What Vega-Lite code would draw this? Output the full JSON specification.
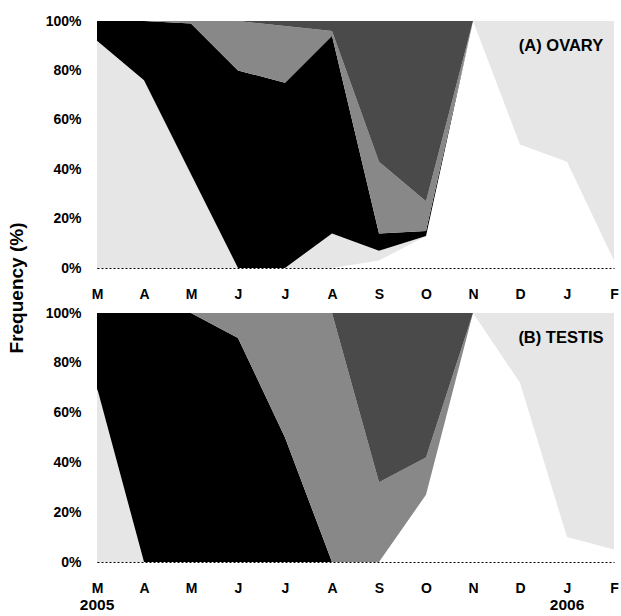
{
  "$schema": "https://vega.github.io/schema/vega-lite/v6.json",
  "padding": {"left": 7, "top": 14, "right": 0, "bottom": 0},
  "bounds": "flush",
  "spacing": 45,
  "config": {
    "view": {"stroke": null},
    "font": "Liberation Sans",
    "axis": {
      "labelFont": "Liberation Sans",
      "labelFontWeight": "bold",
      "labelFontSize": 14,
      "labelColor": "#000000",
      "grid": false,
      "ticks": false,
      "domainColor": "#000000",
      "domainDash": [2, 2],
      "domainWidth": 1
    }
  },
  "data": {
    "values": [
      {"panel": "A", "month": "Mar", "stage": "1 spent", "value": 0},
      {"panel": "A", "month": "Mar", "stage": "2 resting", "value": 92},
      {"panel": "A", "month": "Mar", "stage": "3 developing", "value": 8},
      {"panel": "A", "month": "Mar", "stage": "4 maturing", "value": 0},
      {"panel": "A", "month": "Mar", "stage": "5 mature", "value": 0},
      {"panel": "A", "month": "Apr", "stage": "1 spent", "value": 0},
      {"panel": "A", "month": "Apr", "stage": "2 resting", "value": 76},
      {"panel": "A", "month": "Apr", "stage": "3 developing", "value": 24},
      {"panel": "A", "month": "Apr", "stage": "4 maturing", "value": 0},
      {"panel": "A", "month": "Apr", "stage": "5 mature", "value": 0},
      {"panel": "A", "month": "May", "stage": "1 spent", "value": 0},
      {"panel": "A", "month": "May", "stage": "2 resting", "value": 38},
      {"panel": "A", "month": "May", "stage": "3 developing", "value": 61},
      {"panel": "A", "month": "May", "stage": "4 maturing", "value": 1},
      {"panel": "A", "month": "May", "stage": "5 mature", "value": 0},
      {"panel": "A", "month": "Jun", "stage": "1 spent", "value": 0},
      {"panel": "A", "month": "Jun", "stage": "2 resting", "value": 0},
      {"panel": "A", "month": "Jun", "stage": "3 developing", "value": 80},
      {"panel": "A", "month": "Jun", "stage": "4 maturing", "value": 20},
      {"panel": "A", "month": "Jun", "stage": "5 mature", "value": 0},
      {"panel": "A", "month": "Jul", "stage": "1 spent", "value": 0},
      {"panel": "A", "month": "Jul", "stage": "2 resting", "value": 0},
      {"panel": "A", "month": "Jul", "stage": "3 developing", "value": 75},
      {"panel": "A", "month": "Jul", "stage": "4 maturing", "value": 23},
      {"panel": "A", "month": "Jul", "stage": "5 mature", "value": 2},
      {"panel": "A", "month": "Aug", "stage": "1 spent", "value": 0},
      {"panel": "A", "month": "Aug", "stage": "2 resting", "value": 14},
      {"panel": "A", "month": "Aug", "stage": "3 developing", "value": 80},
      {"panel": "A", "month": "Aug", "stage": "4 maturing", "value": 2},
      {"panel": "A", "month": "Aug", "stage": "5 mature", "value": 4},
      {"panel": "A", "month": "Sep", "stage": "1 spent", "value": 3},
      {"panel": "A", "month": "Sep", "stage": "2 resting", "value": 4},
      {"panel": "A", "month": "Sep", "stage": "3 developing", "value": 7},
      {"panel": "A", "month": "Sep", "stage": "4 maturing", "value": 29},
      {"panel": "A", "month": "Sep", "stage": "5 mature", "value": 57},
      {"panel": "A", "month": "Oct", "stage": "1 spent", "value": 13},
      {"panel": "A", "month": "Oct", "stage": "2 resting", "value": 0},
      {"panel": "A", "month": "Oct", "stage": "3 developing", "value": 2},
      {"panel": "A", "month": "Oct", "stage": "4 maturing", "value": 12},
      {"panel": "A", "month": "Oct", "stage": "5 mature", "value": 73},
      {"panel": "A", "month": "Nov", "stage": "1 spent", "value": 100},
      {"panel": "A", "month": "Nov", "stage": "2 resting", "value": 0},
      {"panel": "A", "month": "Nov", "stage": "3 developing", "value": 0},
      {"panel": "A", "month": "Nov", "stage": "4 maturing", "value": 0},
      {"panel": "A", "month": "Nov", "stage": "5 mature", "value": 0},
      {"panel": "A", "month": "Dec", "stage": "1 spent", "value": 50},
      {"panel": "A", "month": "Dec", "stage": "2 resting", "value": 50},
      {"panel": "A", "month": "Dec", "stage": "3 developing", "value": 0},
      {"panel": "A", "month": "Dec", "stage": "4 maturing", "value": 0},
      {"panel": "A", "month": "Dec", "stage": "5 mature", "value": 0},
      {"panel": "A", "month": "Jan", "stage": "1 spent", "value": 43},
      {"panel": "A", "month": "Jan", "stage": "2 resting", "value": 57},
      {"panel": "A", "month": "Jan", "stage": "3 developing", "value": 0},
      {"panel": "A", "month": "Jan", "stage": "4 maturing", "value": 0},
      {"panel": "A", "month": "Jan", "stage": "5 mature", "value": 0},
      {"panel": "A", "month": "Feb", "stage": "1 spent", "value": 3},
      {"panel": "A", "month": "Feb", "stage": "2 resting", "value": 97},
      {"panel": "A", "month": "Feb", "stage": "3 developing", "value": 0},
      {"panel": "A", "month": "Feb", "stage": "4 maturing", "value": 0},
      {"panel": "A", "month": "Feb", "stage": "5 mature", "value": 0},
      {"panel": "B", "month": "Mar", "stage": "1 spent", "value": 0},
      {"panel": "B", "month": "Mar", "stage": "2 resting", "value": 70},
      {"panel": "B", "month": "Mar", "stage": "3 developing", "value": 30},
      {"panel": "B", "month": "Mar", "stage": "4 maturing", "value": 0},
      {"panel": "B", "month": "Mar", "stage": "5 mature", "value": 0},
      {"panel": "B", "month": "Apr", "stage": "1 spent", "value": 0},
      {"panel": "B", "month": "Apr", "stage": "2 resting", "value": 0},
      {"panel": "B", "month": "Apr", "stage": "3 developing", "value": 100},
      {"panel": "B", "month": "Apr", "stage": "4 maturing", "value": 0},
      {"panel": "B", "month": "Apr", "stage": "5 mature", "value": 0},
      {"panel": "B", "month": "May", "stage": "1 spent", "value": 0},
      {"panel": "B", "month": "May", "stage": "2 resting", "value": 0},
      {"panel": "B", "month": "May", "stage": "3 developing", "value": 100},
      {"panel": "B", "month": "May", "stage": "4 maturing", "value": 0},
      {"panel": "B", "month": "May", "stage": "5 mature", "value": 0},
      {"panel": "B", "month": "Jun", "stage": "1 spent", "value": 0},
      {"panel": "B", "month": "Jun", "stage": "2 resting", "value": 0},
      {"panel": "B", "month": "Jun", "stage": "3 developing", "value": 90},
      {"panel": "B", "month": "Jun", "stage": "4 maturing", "value": 10},
      {"panel": "B", "month": "Jun", "stage": "5 mature", "value": 0},
      {"panel": "B", "month": "Jul", "stage": "1 spent", "value": 0},
      {"panel": "B", "month": "Jul", "stage": "2 resting", "value": 0},
      {"panel": "B", "month": "Jul", "stage": "3 developing", "value": 50},
      {"panel": "B", "month": "Jul", "stage": "4 maturing", "value": 50},
      {"panel": "B", "month": "Jul", "stage": "5 mature", "value": 0},
      {"panel": "B", "month": "Aug", "stage": "1 spent", "value": 0},
      {"panel": "B", "month": "Aug", "stage": "2 resting", "value": 0},
      {"panel": "B", "month": "Aug", "stage": "3 developing", "value": 0},
      {"panel": "B", "month": "Aug", "stage": "4 maturing", "value": 100},
      {"panel": "B", "month": "Aug", "stage": "5 mature", "value": 0},
      {"panel": "B", "month": "Sep", "stage": "1 spent", "value": 0},
      {"panel": "B", "month": "Sep", "stage": "2 resting", "value": 0},
      {"panel": "B", "month": "Sep", "stage": "3 developing", "value": 0},
      {"panel": "B", "month": "Sep", "stage": "4 maturing", "value": 32},
      {"panel": "B", "month": "Sep", "stage": "5 mature", "value": 68},
      {"panel": "B", "month": "Oct", "stage": "1 spent", "value": 27},
      {"panel": "B", "month": "Oct", "stage": "2 resting", "value": 0},
      {"panel": "B", "month": "Oct", "stage": "3 developing", "value": 0},
      {"panel": "B", "month": "Oct", "stage": "4 maturing", "value": 15},
      {"panel": "B", "month": "Oct", "stage": "5 mature", "value": 58},
      {"panel": "B", "month": "Nov", "stage": "1 spent", "value": 100},
      {"panel": "B", "month": "Nov", "stage": "2 resting", "value": 0},
      {"panel": "B", "month": "Nov", "stage": "3 developing", "value": 0},
      {"panel": "B", "month": "Nov", "stage": "4 maturing", "value": 0},
      {"panel": "B", "month": "Nov", "stage": "5 mature", "value": 0},
      {"panel": "B", "month": "Dec", "stage": "1 spent", "value": 72},
      {"panel": "B", "month": "Dec", "stage": "2 resting", "value": 28},
      {"panel": "B", "month": "Dec", "stage": "3 developing", "value": 0},
      {"panel": "B", "month": "Dec", "stage": "4 maturing", "value": 0},
      {"panel": "B", "month": "Dec", "stage": "5 mature", "value": 0},
      {"panel": "B", "month": "Jan", "stage": "1 spent", "value": 10},
      {"panel": "B", "month": "Jan", "stage": "2 resting", "value": 90},
      {"panel": "B", "month": "Jan", "stage": "3 developing", "value": 0},
      {"panel": "B", "month": "Jan", "stage": "4 maturing", "value": 0},
      {"panel": "B", "month": "Jan", "stage": "5 mature", "value": 0},
      {"panel": "B", "month": "Feb", "stage": "1 spent", "value": 5},
      {"panel": "B", "month": "Feb", "stage": "2 resting", "value": 95},
      {"panel": "B", "month": "Feb", "stage": "3 developing", "value": 0},
      {"panel": "B", "month": "Feb", "stage": "4 maturing", "value": 0},
      {"panel": "B", "month": "Feb", "stage": "5 mature", "value": 0}
    ]
  },
  "vconcat": [
    {
      "width": 517,
      "height": 247,
      "transform": [{"filter": "datum.panel == 'A'"}],
      "layer": [
        {
          "mark": {"type": "area", "interpolate": "linear"},
          "encoding": {
            "x": {"field": "month", "type": "ordinal", "sort": ["Mar","Apr","May","Jun","Jul","Aug","Sep","Oct","Nov","Dec","Jan","Feb"], "scale": {"type": "point", "padding": 0},
              "axis": {"title": null, "labelAngle": 0, "labelPadding": 19, "labelExpr": "substring(datum.value, 0, 1)"}},
            "y": {"field": "value", "type": "quantitative", "stack": "zero", "scale": {"domain": [0, 100], "nice": false},
              "axis": {"title": null, "values": [0,20,40,60,80,100], "labelExpr": "datum.value + '%'", "labelPadding": 16}},
            "color": {"field": "stage", "type": "nominal", "legend": null,
              "scale": {"domain": ["1 spent","2 resting","3 developing","4 maturing","5 mature"], "range": ["#ffffff","#e6e6e6","#000000","#888888","#4a4a4a"]}},
            "order": {"field": "stage", "sort": "ascending"}
          }
        },
        {
          "data": {"values": [{"label": "(A) OVARY"}]},
          "mark": {"type": "text", "fontSize": 16.5, "fontWeight": "bold", "align": "center", "baseline": "middle", "dx": -6, "color": "#000000"},
          "encoding": {
            "x": {"datum": "Jan"},
            "y": {"datum": 90},
            "text": {"field": "label"}
          }
        }
      ]
    },
    {
      "width": 517,
      "height": 249,
      "transform": [{"filter": "datum.panel == 'B'"}],
      "layer": [
        {
          "mark": {"type": "area", "interpolate": "linear"},
          "encoding": {
            "x": {"field": "month", "type": "ordinal", "sort": ["Mar","Apr","May","Jun","Jul","Aug","Sep","Oct","Nov","Dec","Jan","Feb"], "scale": {"type": "point", "padding": 0},
              "axis": {"title": null, "labelAngle": 0, "labelPadding": 19, "labelExpr": "substring(datum.value, 0, 1)"}},
            "y": {"field": "value", "type": "quantitative", "stack": "zero", "scale": {"domain": [0, 100], "nice": false},
              "axis": {"title": "Frequency (%)", "titleFontSize": 19, "titleFontWeight": "bold", "titleColor": "#000000", "titleX": -71, "titleY": -25.5, "titleBaseline": "bottom",
                "values": [0,20,40,60,80,100], "labelExpr": "datum.value + '%'", "labelPadding": 16}},
            "color": {"field": "stage", "type": "nominal", "legend": null,
              "scale": {"domain": ["1 spent","2 resting","3 developing","4 maturing","5 mature"], "range": ["#ffffff","#e6e6e6","#000000","#888888","#4a4a4a"]}},
            "order": {"field": "stage", "sort": "ascending"}
          }
        },
        {
          "data": {"values": [{"label": "(B) TESTIS"}]},
          "mark": {"type": "text", "fontSize": 16.5, "fontWeight": "bold", "align": "center", "baseline": "middle", "dx": -6, "color": "#000000"},
          "encoding": {
            "x": {"datum": "Jan"},
            "y": {"datum": 90},
            "text": {"field": "label"}
          }
        },
        {
          "data": {"values": [{"month": "Mar", "year": "2005"}, {"month": "Jan", "year": "2006"}]},
          "mark": {"type": "text", "fontSize": 15.5, "fontWeight": "bold", "align": "center", "baseline": "middle", "color": "#000000", "clip": false},
          "encoding": {
            "x": {"field": "month", "type": "ordinal", "sort": ["Mar","Apr","May","Jun","Jul","Aug","Sep","Oct","Nov","Dec","Jan","Feb"]},
            "y": {"datum": -17.3},
            "text": {"field": "year"}
          }
        }
      ]
    }
  ]
}
